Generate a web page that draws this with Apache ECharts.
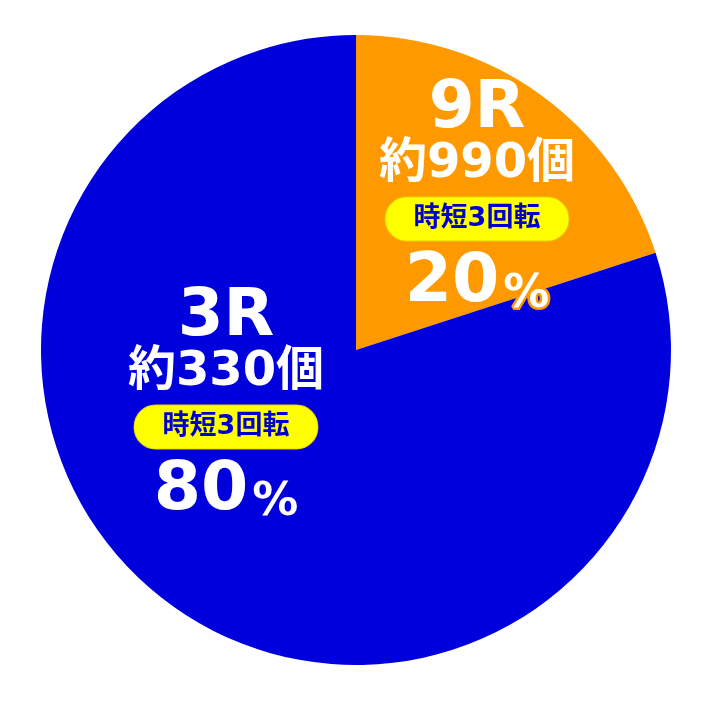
<!DOCTYPE html>
<html>
<head>
<meta charset="utf-8">
<script src="https://cdn.jsdelivr.net/npm/echarts@6/dist/echarts.min.js"></script>
<style>
  html, body { margin: 0; padding: 0; background: #fff; }
  #chart { width: 712px; height: 701px; }
</style>
</head>
<body>
<div id="chart"></div>
<script>
// 大当り振り分け
const rounds = ['9R', '3R'];
const payouts = ['約990個', '約330個'];
const jitan = ['時短3回転', '時短3回転'];
const shares = [20, 80];
const sliceColors = ['#FF9900', '#0000DC'];

// ラベルの中心位置（px）
const labelPos = [[477, 199], [226, 407]];

const FONT = '"DejaVu Sans", "Noto Sans CJK JP", sans-serif';

const pieData = rounds.map((r, i) => ({
    name: r,
    value: shares[i],
    payout: payouts[i],
    jitan: jitan[i],
    itemStyle: { color: sliceColors[i] },
    label: { textBorderColor: sliceColors[i] }
}));

const chart = echarts.init(document.getElementById('chart'));

chart.setOption({
    animation: false,
    series: [{
        type: 'pie',
        center: [356, 350],
        radius: [0, 315],
        startAngle: 90,
        clockwise: true,
        silent: true,
        itemStyle: { borderWidth: 0 },
        label: {
            show: true,
            position: 'inside',
            textBorderWidth: 5,
            formatter: p => `{big|${p.name}}\n{mid|${p.data.payout}}\n{pill|${p.data.jitan}}\n{pct|${p.value}}{sign|%}`,
            rich: {
                big: { fontFamily: FONT, fontWeight: 'bold', fontSize: 66, color: '#fff', lineHeight: 60 },
                mid: { fontFamily: FONT, fontWeight: 'bold', fontSize: 48, color: '#fff', lineHeight: 50 },
                pill: {
                    fontFamily: FONT, fontWeight: 'bold', fontSize: 27, color: '#0000CC',
                    backgroundColor: '#FFFF00', borderColor: '#E6D200', borderWidth: 1,
                    borderRadius: 21, padding: [8, 28], lineHeight: 58,
                    textBorderWidth: 0
                },
                pct: { fontFamily: FONT, fontWeight: 'bold', fontSize: 68, color: '#fff', lineHeight: 70 },
                sign: { fontFamily: FONT, fontWeight: 'bold', fontSize: 46, color: '#fff', lineHeight: 70, verticalAlign: 'bottom', padding: [0, 0, 0, 4] }
            }
        },
        labelLine: { show: false },
        labelLayout: params => ({
            x: labelPos[params.dataIndex][0],
            y: labelPos[params.dataIndex][1],
            align: 'center',
            verticalAlign: 'middle'
        }),
        data: pieData
    }]
});
</script>
</body>
</html>
